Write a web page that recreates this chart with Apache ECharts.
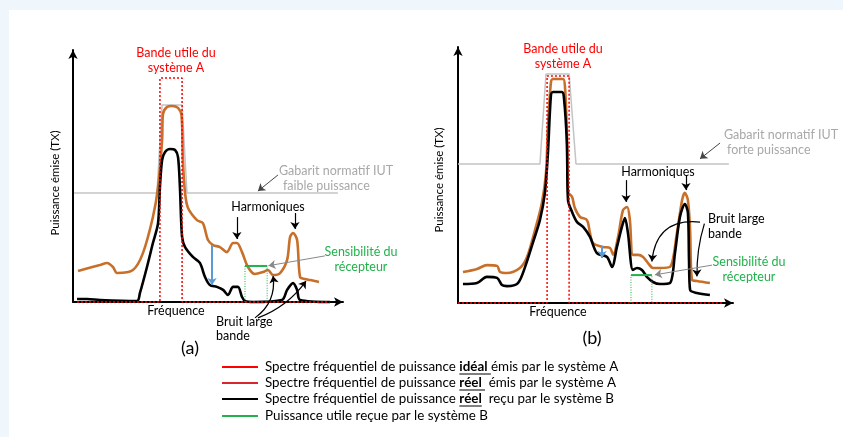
<!DOCTYPE html>
<html><head><meta charset="utf-8">
<script src="https://cdn.jsdelivr.net/npm/echarts@6/dist/echarts.min.js"></script>
<style>
html,body{margin:0;padding:0;background:#eff7fc;width:843px;height:437px;overflow:hidden}
#card{position:absolute;left:9px;top:10px;right:0;bottom:0;background:#fff}
#c{position:absolute;left:0;top:0;width:843px;height:437px}
</style></head>
<body><div id="card"></div><div id="c"></div>
<script>
// ---------- DATA (x: frequency 0-100, y: power 0-100) ----------
// Chart (a)
const gabaritA = [[0.4,43.3],[31.1,43.3],[33,78.2],[40.4,78.2],[42.2,43.3],[98.1,43.3]];
const idealA = [[1.5,0],[32.2,0],[32.2,88.9],[40.4,88.9],[40.4,0],[95,0]];
const emisA = [[1.85,12.3],[10,14.7],[12.6,15.5],[14.8,13.9],[16.3,11.5],[22.2,12.7],[25.9,19.4],[29.6,33.7],[31.5,45.6],[33,64.3],[33.3,74.5],[34.8,77.4],[36.7,77.8],[38.9,77],[40.2,74],[40.7,56.3],[41.5,43.3],[42.6,37.3],[45.9,32.5],[48.1,31.3],[50,24.6],[51.9,22.6],[54.4,21.8],[57,19.8],[59.3,23.4],[60.7,23.4],[62.6,19.8],[64.8,13.9],[67.4,11.1],[70.4,11.9],[72.2,12.7],[74.1,10.7],[76.7,11.5],[79.3,16.7],[80.4,25.8],[81.5,27.4],[83,24.6],[84.1,9.9],[85.9,9.1],[87.8,8.7],[91.1,7.9]];
const recuA = [[1.5,1.2],[5.2,1.2],[10,0.8],[23.7,0.4],[24.8,3.6],[27.4,13.9],[29.6,23.4],[31.5,31.3],[32.2,45.6],[33,56.3],[34.1,59.5],[35.9,60.7],[37.8,60.3],[38.9,57.5],[39.6,45.6],[40.4,25.8],[41.5,21.8],[44.4,17.9],[47,15.5],[48.9,9.9],[50.7,6.7],[53.3,6],[55.6,4.8],[57.4,2.8],[59.3,6],[61.1,6],[62.6,2],[63.7,0.4],[66.7,0],[77.4,0.8],[79.3,4.8],[81.5,7.5],[83,4.8],[84.1,0.8],[95.2,0]];
const utileA = [[63.7,0],[63.7,14.3],[71.9,14.3],[71.9,0]];
const utileTopA = [[63.7,14.3],[71.9,14.3]];
const ecartA = [[51.5,22.6],[51.5,6.7]];
// Chart (b)
const gabaritB = [[0,54.3],[29.8,54.3],[32,89.5],[40.4,89.5],[42.9,54.3],[98.5,54.3]];
const idealB = [[0,0],[32.4,0],[32.4,88.7],[40.4,88.7],[40.4,0],[96,0]];
const emisB = [[1.8,12.1],[6.9,13.3],[10.5,14.8],[14.2,14.5],[15.3,12.1],[17.8,11.7],[22.5,13.7],[25.1,18],[28,28.5],[30.5,39.1],[32,50.8],[32.7,68.8],[33.8,86.3],[34.5,87.5],[38.2,87.5],[38.9,84.4],[39.6,66.4],[40,43.4],[41.5,41.4],[42.5,37.1],[44.4,33.6],[46.9,32.4],[48,27.3],[49.1,23.4],[52.7,21.9],[55.3,21.5],[56.4,18.8],[58.2,25.8],[60,36.3],[61.5,37.5],[62.5,32.4],[63.6,18.8],[65.5,18.8],[67.3,18],[69.1,15.6],[70.9,13.7],[73.5,13.7],[77.1,14.1],[79.6,27.3],[81.5,40.2],[82.5,43],[83.6,40.2],[84.4,28.5],[85.1,9],[86.9,8.6],[91.6,7.8]];
const recuB = [[1.8,7.4],[6.9,7.8],[10.5,10.2],[14.2,9.8],[16,7],[17.8,6.6],[21.8,7.8],[24.4,14.1],[27.3,23.8],[29.8,32.4],[31.6,43],[32.7,58.6],[33.8,81.3],[34.5,82.4],[37.8,82.4],[38.5,80.5],[39.6,62.5],[40,40.2],[41.5,35.5],[43.3,31.6],[45.5,29.7],[48,25.8],[50.5,19.5],[54.2,18],[56,14.1],[57.8,21.9],[59.6,29.7],[60.7,33.2],[61.8,27.3],[63.6,12.9],[65.1,13.7],[66.9,12.9],[68.7,10.2],[70.9,8.2],[73.5,7.4],[77.1,7.8],[78.9,19.5],[80.7,33.6],[82.5,38.7],[83.6,35.2],[84,16.8],[84.4,5.1],[86.9,3.9],[91.6,3.1]];
const utileB = [[62.9,0],[62.9,10.9],[70.5,10.9],[70.5,0]];
const utileTopB = [[62.9,10.9],[70.5,10.9]];
const ecartB = [[52.4,22.3],[52.4,17.6]];

const legendItems = [
  {color:'#ff0000', pre:'Spectre fréquentiel de puissance ', bold:'idéal', ul:'idéal ', post:' émis par le système A'},
  {color:'#d9262b', pre:'Spectre fréquentiel de puissance ', bold:'réel', ul:'réel ', post:'  émis par le système A'},
  {color:'#000000', pre:'Spectre fréquentiel de puissance ', bold:'réel', ul:'réel', post:'  reçu par le système B'},
  {color:'#22b14c', pre:'Puissance utile reçue par le système B', bold:'', ul:'', post:''}
];

// ---------- CHART ----------
const FF = 'Lato, "Open Sans", sans-serif';
const ORANGE = '#c8702a', GRAY = '#c4c4c4', GTXT = '#a8a8a8', RED = '#ff0000', GREEN = '#22b14c', BLUE = '#5b9bd5';

function axisX(g){return {gridIndex:g,type:'value',min:0,max:100,
  axisLine:{show:true,onZero:false,symbol:['none','arrow'],symbolSize:[7,9],lineStyle:{color:'#000',width:2}},
  axisTick:{show:false},axisLabel:{show:false},splitLine:{show:false}};}
function axisY(g){return {gridIndex:g,type:'value',min:0,max:100,
  axisLine:{show:true,onZero:false,symbol:['none','arrow'],symbolSize:[7,9],lineStyle:{color:'#000',width:2}},
  axisTick:{show:false},axisLabel:{show:false},splitLine:{show:false}};}
function line(g,data,color,width,opts){return Object.assign({type:'line',xAxisIndex:g,yAxisIndex:g,data:data,
  showSymbol:false,symbol:'none',clip:false,silent:true,animation:false,
  lineStyle:{color:color,width:width},smooth:false},opts||{});}
function arrows(g,items){return {type:'lines',coordinateSystem:'cartesian2d',xAxisIndex:g,yAxisIndex:g,
  silent:true,clip:false,animation:false,symbol:['none','arrow'],symbolSize:7,z:5,
  lineStyle:{color:'#000',width:1.2,opacity:1,curveness:0},data:items};}
function arr(from,to,style){
  return {coords:[from,to],lineStyle:Object.assign({color:'#000',width:1.2,opacity:1,curveness:0},style||{})};
}

const series = [
  // (a)
  line(0,gabaritA,GRAY,1.5),
  line(0,emisA,ORANGE,2.6,{smooth:0.3}),
  line(0,recuA,'#000',2.6,{smooth:0.3}),
  line(0,idealA,RED,1.5,{lineStyle:{color:RED,width:1.5,type:[2,2]}}),
  line(0,utileA,GREEN,1,{lineStyle:{color:GREEN,width:1,type:[1,1.5]}}),
  line(0,utileTopA,GREEN,2),
  arrows(0,[
    arr([75.9,50.4],[68.5,44.0],{color:'#444',width:1}),
    arr([60.7,33.7],[60.7,25.0]),
    arr([82.2,35.3],[82.2,29.0]),
    arr([93.3,18.3],[72.4,14.4],{color:'#888',width:1}),
    arr([67.4,-6.3],[74.1,10.3],{curveness:-0.3}),
    arr([68.5,-6.3],[86.3,8.3],{curveness:-0.15}),
    arr(ecartA[0],ecartA[1],{color:BLUE,width:2})
  ]),
  // (b)
  line(1,gabaritB,GRAY,1.5),
  line(1,emisB,ORANGE,2.6,{smooth:0.3}),
  line(1,recuB,'#000',2.6,{smooth:0.3}),
  line(1,idealB,RED,1.5,{lineStyle:{color:RED,width:1.5,type:[2,2]}}),
  line(1,utileB,GREEN,1,{lineStyle:{color:GREEN,width:1,type:[1,1.5]}}),
  line(1,utileTopB,GREEN,2),
  arrows(1,[
    arr([95.3,62.5],[88.0,56.3],{color:'#444',width:1}),
    arr([61.1,48.0],[61.1,39.5]),
    arr([82.9,50.0],[82.9,44.1]),
    arr([88.0,31.6],[70.5,16.2],{curveness:-0.5}),
    arr([89.6,31.0],[86.9,10.4],{curveness:-0.08}),
    arr([92.4,14.8],[71.6,11.0],{color:'#888',width:1}),
    arr(ecartB[0],ecartB[1],{color:BLUE,width:2})
  ])
];

function txt(x,y,t,color,size,align,extra){
  return Object.assign({type:'text',x:x,y:y,silent:true,
    style:{text:t,fill:color,font:size+'px '+FF,textAlign:align||'center',textVerticalAlign:'middle',lineHeight:15}},extra||{});
}
const graphics = [
  // (a)
  txt(176,53,'Bande utile du',RED,12.5),
  txt(176,68,'système A',RED,12.5),
  txt(279,171,'Gabarit normatif IUT',GTXT,12.5,'left'),
  txt(283,186,'faible puissance',GTXT,12.5,'left'),
  txt(268,207,'Harmoniques','#000',12.5),
  txt(361,252,'Sensibilité du',GREEN,12.5),
  txt(361,267,'récepteur',GREEN,12.5),
  txt(176,311,'Fréquence','#000',12.5),
  txt(216,322,'Bruit large','#000',12.5,'left'),
  txt(216,336,'bande','#000',12.5,'left'),
  txt(190,348,'(a)','#000',18),
  txt(55,183,'Puissance émise (TX)','#000',11.5,'center',{rotation:Math.PI/2}),
  // (b)
  txt(563,49,'Bande utile du',RED,12.5),
  txt(563,64,'système A',RED,12.5),
  txt(724,135,'Gabarit normatif IUT',GTXT,12.5,'left'),
  txt(727,150,'forte puissance',GTXT,12.5,'left'),
  txt(658,172,'Harmoniques','#000',12.5),
  txt(708,219,'Bruit large','#000',12.5,'left'),
  txt(708,234,'bande','#000',12.5,'left'),
  txt(749,262,'Sensibilité du',GREEN,12.5),
  txt(749,277,'récepteur',GREEN,12.5),
  txt(558,312,'Fréquence','#000',12.5),
  txt(592,338,'(b)','#000',18),
  txt(439,180,'Puissance émise (TX)','#000',11.5,'center',{rotation:Math.PI/2})
];

// legend
const ctx = document.createElement('canvas').getContext('2d');
function tw(t,font){ctx.font=font;return ctx.measureText(t).width;}
const LF = 13.4, NF = LF+'px '+FF, BF = 'bold '+LF+'px '+FF;
const rowsY = [367,383,399,416];
legendItems.forEach((it,i)=>{
  const y = rowsY[i];
  graphics.push({type:'line',silent:true,shape:{x1:222,y1:y,x2:258,y2:y},style:{stroke:it.color,lineWidth:2}});
  let rich = '{n|'+it.pre+'}';
  if(it.bold) rich += '{b|'+it.bold+'}{n|'+it.post+'}';
  graphics.push({type:'text',x:265,y:y,silent:true,style:{text:rich,font:NF,fill:'#000',textVerticalAlign:'middle',
    rich:{n:{font:NF,fill:'#000'},b:{font:BF,fill:'#000'}}}});
  if(it.ul){
    const x0 = 265+tw(it.pre,NF);
    const w = tw(it.ul,BF);
    graphics.push({type:'line',silent:true,shape:{x1:x0,y1:y+7,x2:x0+w,y2:y+7},style:{stroke:'#000',lineWidth:1}});
  }
});

const chart = echarts.init(document.getElementById('c'),null,{renderer:'canvas'});
chart.setOption({
  animation:false,
  grid:[{left:73,top:50,width:270,height:252},{left:458,top:47,width:275,height:256}],
  xAxis:[axisX(0),axisX(1)],
  yAxis:[axisY(0),axisY(1)],
  series:series,
  graphic:graphics
});
</script></body></html>
